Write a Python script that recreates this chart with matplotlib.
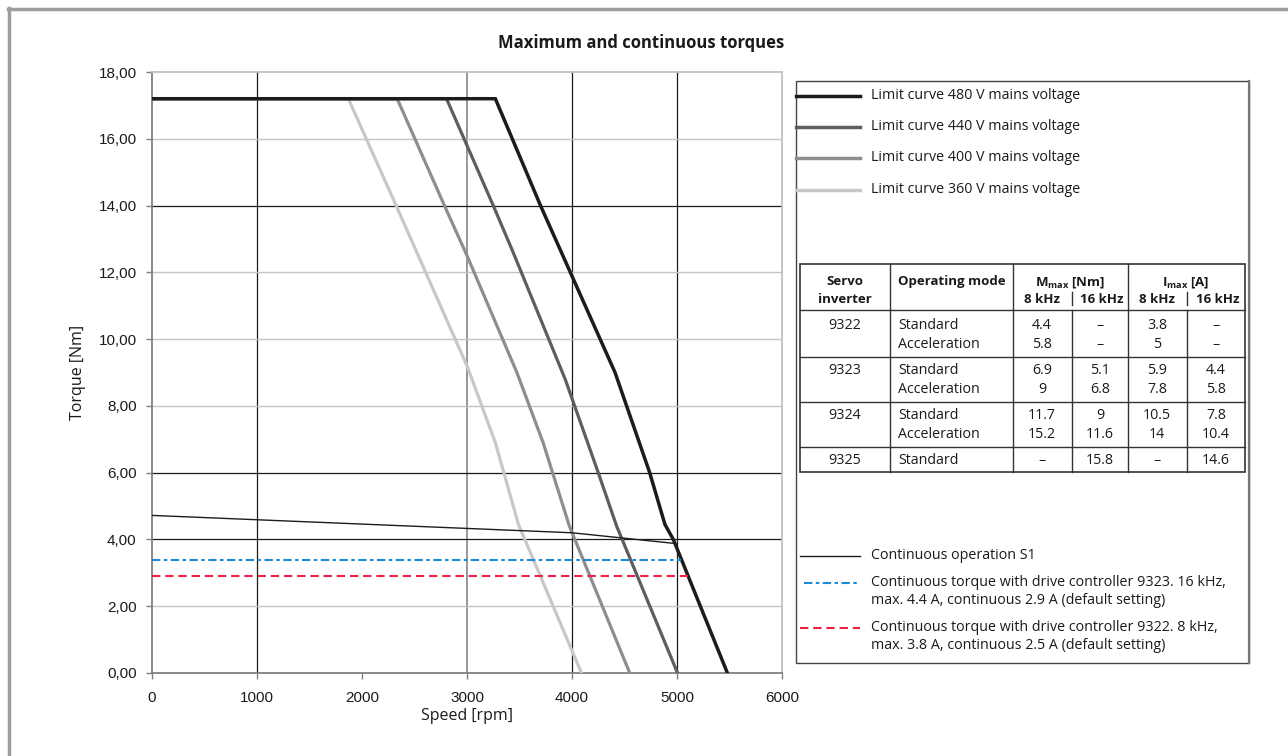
import matplotlib
matplotlib.use("Agg")
import matplotlib.pyplot as plt
import matplotlib.transforms as mtransforms
from matplotlib.lines import Line2D
from matplotlib.ticker import FuncFormatter

# Données (vitesse en rpm, couple en Nm)
speed_480 = [0, 3270, 3700, 4410, 4740, 4885, 4965, 5480]
torque_480 = [17.2, 17.2, 14.0, 9.0, 6.0, 4.45, 4.0, 0.0]
speed_440 = [0, 2805, 3250, 3430, 3935, 4250, 4425, 5005]
torque_440 = [17.2, 17.2, 14.0, 12.67, 8.8, 6.0, 4.4, 0.0]
speed_400 = [0, 2335, 2785, 3000, 3475, 3725, 3830, 3975, 4550]
torque_400 = [17.2, 17.2, 14.0, 12.5, 9.0, 6.9, 5.85, 4.4, 0.0]
speed_360 = [0, 1870, 2325, 3000, 3270, 3490, 4090]
torque_360 = [17.2, 17.2, 14.0, 9.2, 6.9, 4.45, 0.0]
speed_s1 = [0, 4000, 4980]
torque_s1 = [4.72, 4.2, 3.88]
speed_9323 = [0, 5042]
torque_9323 = [3.37, 3.37]
speed_9322 = [0, 5100]
torque_9322 = [2.9, 2.9]

x_ticks = [0, 1000, 2000, 3000, 4000, 5000, 6000]
y_ticks = [0, 2, 4, 6, 8, 10, 12, 14, 16, 18]

legend_labels = [
    "Limit curve 480 V mains voltage",
    "Limit curve 440 V mains voltage",
    "Limit curve 400 V mains voltage",
    "Limit curve 360 V mains voltage",
    "Continuous operation S1",
    "Continuous torque with drive controller 9323. 16 kHz,\nmax. 4.4 A, continuous 2.9 A (default setting)",
    "Continuous torque with drive controller 9322. 8 kHz,\nmax. 3.8 A, continuous 2.5 A (default setting)",
]

# Tableau des variateurs
inverters = ["9322", "9323", "9324", "9325"]
modes = [["Standard", "Acceleration"], ["Standard", "Acceleration"],
         ["Standard", "Acceleration"], ["Standard"]]
mmax_8 = [["4.4", "5.8"], ["6.9", "9"], ["11.7", "15.2"], ["–"]]
mmax_16 = [["–", "–"], ["5.1", "6.8"], ["9", "11.6"], ["15.8"]]
imax_8 = [["3.8", "5"], ["5.9", "7.8"], ["10.5", "14"], ["–"]]
imax_16 = [["–", "–"], ["4.4", "5.8"], ["7.8", "10.4"], ["14.6"]]

plt.rcParams["lines.scale_dashes"] = False
plt.rcParams["mathtext.fontset"] = "custom"
plt.rcParams["mathtext.rm"] = "Open Sans"
plt.rcParams["mathtext.bf"] = "Open Sans:bold"

W, H = 1288, 756
fig = plt.figure(figsize=(W / 100, H / 100), dpi=100)
# coordonnées en pixels, origine en haut à gauche
px = mtransforms.Affine2D().scale(1 / W, -1 / H).translate(0, 1) + fig.transFigure

ax = fig.add_axes([152 / W, 1 - 673 / H, (782 - 152) / W, (673 - 72) / H])
ax.set_xlim(0, 6000)
ax.set_ylim(0, 18)

# Quadrillage (irrégulier, comme l'original)
for v in [1000, 4000, 5000]:
    ax.axvline(v, color="#1a1a1a", lw=0.9, zorder=1)
ax.axvline(3000, color="#7a7a7a", lw=1.1, zorder=1)
for v in [4, 6, 14]:
    ax.axhline(v, color="#1a1a1a", lw=0.9, zorder=1)
for v in [2, 8, 10, 12, 16]:
    ax.axhline(v, color="#c4c4c4", lw=1.0, zorder=1)

ax.plot(speed_360, torque_360, color="#c8c8c8", lw=2.3, zorder=3, solid_joinstyle="miter")
ax.plot(speed_400, torque_400, color="#8e8e8e", lw=2.3, zorder=3, solid_joinstyle="miter")
ax.plot(speed_440, torque_440, color="#5e5e5e", lw=2.3, zorder=3, solid_joinstyle="miter")
ax.plot(speed_480, torque_480, color="#1c1c1c", lw=2.5, zorder=4, solid_joinstyle="miter")
ax.plot(speed_s1, torque_s1, color="#1c1c1c", lw=1.0, zorder=4)
ax.plot(speed_9323, torque_9323, color="#1f8ad2", lw=1.5, dashes=(6, 2.5, 2.5, 2.5), zorder=4)
ax.plot(speed_9322, torque_9322, color="#e8234a", lw=1.5, dashes=(6, 3.5), zorder=4)

ax.set_xticks(x_ticks)
ax.set_yticks(y_ticks)
ax.yaxis.set_major_formatter(FuncFormatter(lambda v, p: f"{v:.2f}".replace(".", ",")))
ax.tick_params(direction="out", length=4, width=1, color="#808080", pad=7,
               labelsize=11, labelcolor="#1a1a1a")
for lab in ax.get_xticklabels() + ax.get_yticklabels():
    lab.set_fontfamily("Liberation Sans")
ax.xaxis.set_tick_params(pad=9)

for s in ["left", "bottom"]:
    ax.spines[s].set_color("#808080")
    ax.spines[s].set_linewidth(1.3)
for s in ["top", "right"]:
    ax.spines[s].set_color("#c0c0c0")
    ax.spines[s].set_linewidth(1.3)

fig.text(467, 716, "Speed [rpm]", transform=px, ha="center", va="center",
         fontsize=11.5, family="Open Sans", color="#1a1a1a")
fig.text(78, 372, "Torque [Nm]", transform=px, ha="center", va="center",
         rotation=90, fontsize=11.5, family="Open Sans", color="#1a1a1a")
fig.text(641, 43, "Maximum and continuous torques", transform=px, ha="center",
         va="center", fontsize=12, fontweight="bold", family="Open Sans", color="#1a1a1a")

# Cadre de la page (haut et gauche)
fig.add_artist(Line2D([8, 1288], [9, 9], transform=px, color="#9e9e9e", lw=2.5))
fig.add_artist(Line2D([9, 9], [8, 756], transform=px, color="#9e9e9e", lw=2.5))

# Boîte de légende
fig.add_artist(plt.Rectangle((796, 81), 1249 - 796, 663 - 81, transform=px,
                             fill=False, edgecolor="#444444", lw=1.0))
fig.add_artist(Line2D([1249, 1249], [81, 663], transform=px, color="#777777", lw=1.6))

leg_styles = [
    dict(color="#1c1c1c", lw=2.5),
    dict(color="#5e5e5e", lw=2.5),
    dict(color="#8e8e8e", lw=2.5),
    dict(color="#c8c8c8", lw=2.5),
    dict(color="#1c1c1c", lw=1.0),
    dict(color="#1f8ad2", lw=1.5, dashes=(6, 2.5, 2.5, 2.5)),
    dict(color="#e8234a", lw=1.5, dashes=(6, 3.5)),
]
leg_y = [96, 127, 158, 190, 556, 583, 628]
leg_x0 = [796, 796, 796, 796, 800, 804, 800]
for lab, st, y, x0 in zip(legend_labels, leg_styles, leg_y, leg_x0):
    fig.add_artist(Line2D([x0, 860], [y, y], transform=px, **st))
    fig.text(871, y - 8, lab, transform=px, ha="left", va="top", fontsize=10.3,
             family="Open Sans", color="#1a1a1a", linespacing=1.3)

# Tableau
tl, tr, tt, tb = 800, 1245, 264, 472
hlines = [310, 357, 402, 447]
fig.add_artist(plt.Rectangle((tl, tt), tr - tl, tb - tt, transform=px, fill=False,
                             edgecolor="#333333", lw=1.2))
for y in hlines:
    fig.add_artist(Line2D([tl, tr], [y, y], transform=px, color="#333333", lw=1.0))
for x in [890, 1013, 1128]:
    fig.add_artist(Line2D([x, x], [tt, tb], transform=px, color="#333333", lw=1.0))
for x in [1072, 1187]:
    fig.add_artist(Line2D([x, x], [292, 305], transform=px, color="#333333", lw=1.0))
    fig.add_artist(Line2D([x, x], [310, tb], transform=px, color="#333333", lw=1.0))

tkw = dict(transform=px, family="Open Sans", color="#1a1a1a", va="baseline")
hkw = dict(tkw, fontsize=9.5, fontweight="bold")
fig.text(845, 285, "Servo", ha="center", **hkw)
fig.text(845, 303, "inverter", ha="center", **hkw)
fig.text(898, 285, "Operating mode", ha="left", **hkw)
fig.text(1070, 285, r"M$_{\mathbf{max}}$ [Nm]", ha="center", **hkw)
fig.text(1186, 285, r"I$_{\mathbf{max}}$ [A]", ha="center", **hkw)
for c, lab in zip([1042, 1102, 1157, 1218], ["8 kHz", "16 kHz", "8 kHz", "16 kHz"]):
    fig.text(c, 303, lab, ha="center", **hkw)

row_top = [329, 374, 419, 464]
cols = [mmax_8, mmax_16, imax_8, imax_16]
centers = [1042, 1100, 1157, 1216]
for i, inv in enumerate(inverters):
    y0 = row_top[i]
    fig.text(845, y0, inv, ha="center", fontsize=10.3, **tkw)
    for j, m in enumerate(modes[i]):
        y = y0 + 19 * j
        fig.text(898, y, m, ha="left", fontsize=10.3, **tkw)
        for col, c in zip(cols, centers):
            fig.text(c, y, col[i][j], ha="center", fontsize=10.3, **tkw)

fig.savefig("out.png", dpi=100)
